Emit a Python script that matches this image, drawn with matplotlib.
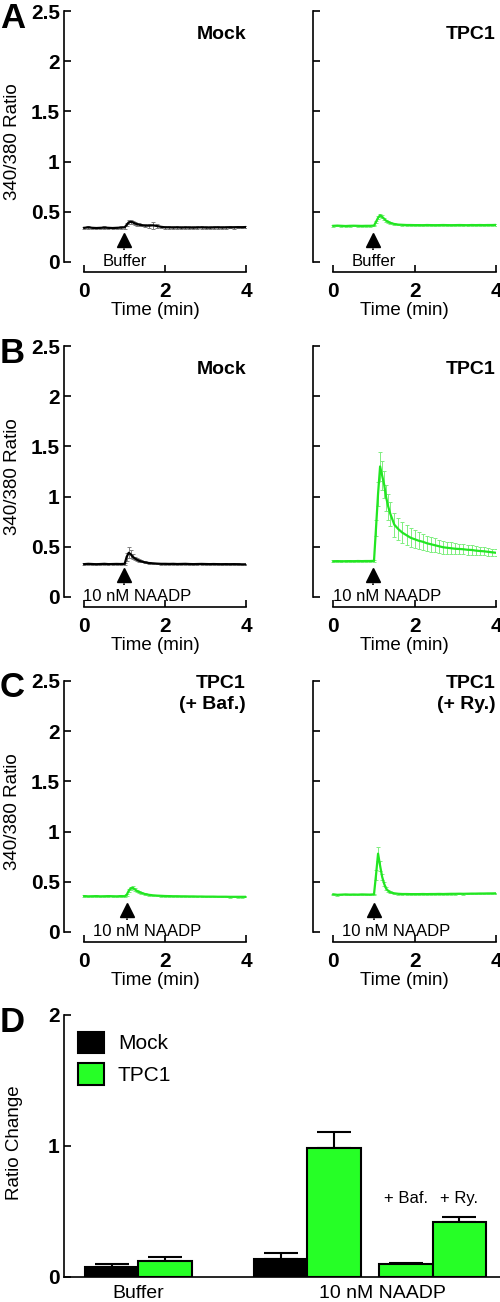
import matplotlib
matplotlib.use('Agg')
import matplotlib.pyplot as plt
from matplotlib.patches import Patch

plt.rcParams['font.family'] = ['Liberation Sans', 'DejaVu Sans']

# ---------------- data ----------------
time_min = [0.0, 0.1, 0.2, 0.3, 0.4, 0.5, 0.6, 0.7, 0.8, 0.9, 1.0,
            1.05, 1.1, 1.15, 1.2, 1.25, 1.3, 1.35, 1.4,
            1.5, 1.6, 1.7, 1.8, 1.9, 2.0,
            2.1, 2.2, 2.3, 2.4, 2.5, 2.6, 2.7, 2.8, 2.9, 3.0,
            3.1, 3.2, 3.3, 3.4, 3.5, 3.6, 3.7, 3.8, 3.9, 4.0]

a_mock = [0.340, 0.345, 0.340, 0.338, 0.340, 0.342, 0.340, 0.338, 0.340, 0.342, 0.345,
          0.370, 0.395, 0.400, 0.395, 0.385, 0.378, 0.372, 0.368,
          0.362, 0.362, 0.365, 0.358, 0.350, 0.345,
          0.345, 0.343, 0.345, 0.342, 0.344, 0.343, 0.342, 0.344, 0.345, 0.343,
          0.342, 0.344, 0.345, 0.343, 0.344, 0.346, 0.345, 0.347, 0.346, 0.348]
a_mock_err = [0.012, 0.012, 0.010, 0.012, 0.011, 0.012, 0.010, 0.012, 0.011, 0.012, 0.012,
              0.015, 0.020, 0.020, 0.018, 0.016, 0.015, 0.015, 0.014,
              0.015, 0.020, 0.035, 0.020, 0.012, 0.012,
              0.012, 0.011, 0.012, 0.012, 0.011, 0.012, 0.012, 0.011, 0.012, 0.012,
              0.012, 0.011, 0.012, 0.012, 0.012, 0.011, 0.012, 0.012, 0.011, 0.012]

a_tpc1 = [0.360, 0.362, 0.360, 0.358, 0.360, 0.361, 0.360, 0.359, 0.360, 0.360, 0.362,
          0.400, 0.440, 0.465, 0.450, 0.430, 0.410, 0.400, 0.390,
          0.378, 0.372, 0.370, 0.368, 0.368, 0.367,
          0.367, 0.366, 0.368, 0.367, 0.366, 0.367, 0.368, 0.367, 0.366, 0.367,
          0.368, 0.367, 0.366, 0.368, 0.367, 0.368, 0.367, 0.368, 0.368, 0.369]
a_tpc1_err = [0.008, 0.008, 0.007, 0.008, 0.008, 0.007, 0.008, 0.008, 0.007, 0.008, 0.008,
              0.012, 0.015, 0.015, 0.014, 0.012, 0.011, 0.010, 0.010,
              0.009, 0.008, 0.008, 0.008, 0.008, 0.008,
              0.008, 0.008, 0.007, 0.008, 0.008, 0.008, 0.007, 0.008, 0.008, 0.008,
              0.008, 0.007, 0.008, 0.008, 0.008, 0.007, 0.008, 0.008, 0.008, 0.008]

b_mock = [0.327, 0.330, 0.328, 0.326, 0.328, 0.330, 0.327, 0.328, 0.329, 0.328, 0.330,
          0.400, 0.440, 0.425, 0.400, 0.385, 0.372, 0.362, 0.355,
          0.345, 0.338, 0.335, 0.332, 0.330, 0.330,
          0.329, 0.330, 0.328, 0.329, 0.330, 0.328, 0.327, 0.328, 0.329, 0.328,
          0.327, 0.328, 0.327, 0.326, 0.327, 0.326, 0.327, 0.326, 0.325, 0.325]
b_mock_err = [0.008, 0.008, 0.007, 0.008, 0.008, 0.007, 0.008, 0.008, 0.007, 0.008, 0.010,
              0.040, 0.055, 0.040, 0.025, 0.018, 0.014, 0.012, 0.010,
              0.009, 0.008, 0.008, 0.008, 0.008, 0.008,
              0.007, 0.008, 0.007, 0.008, 0.007, 0.008, 0.007, 0.008, 0.007, 0.008,
              0.007, 0.008, 0.007, 0.008, 0.007, 0.008, 0.007, 0.008, 0.007, 0.008]

b_tpc1 = [0.355, 0.357, 0.355, 0.356, 0.357, 0.356, 0.358, 0.357, 0.358, 0.358, 0.360,
          0.690, 1.030, 1.300, 1.210, 1.120, 0.990, 0.900, 0.830,
          0.720, 0.675, 0.640, 0.615, 0.590, 0.575,
          0.560, 0.550, 0.535, 0.525, 0.515, 0.505, 0.495, 0.490, 0.485, 0.480,
          0.478, 0.475, 0.470, 0.468, 0.462, 0.458, 0.455, 0.450, 0.445, 0.440]
b_tpc1_err = [0.010, 0.010, 0.009, 0.010, 0.010, 0.009, 0.010, 0.010, 0.009, 0.010, 0.012,
              0.080, 0.120, 0.140, 0.140, 0.130, 0.130, 0.130, 0.120,
              0.120, 0.110, 0.105, 0.100, 0.095, 0.090,
              0.085, 0.080, 0.077, 0.073, 0.070, 0.067, 0.064, 0.061, 0.058, 0.055,
              0.053, 0.051, 0.049, 0.047, 0.045, 0.043, 0.041, 0.039, 0.037, 0.035]

c_baf = [0.357, 0.355, 0.356, 0.357, 0.355, 0.356, 0.357, 0.356, 0.355, 0.357, 0.356,
         0.370, 0.410, 0.435, 0.440, 0.425, 0.410, 0.400, 0.392,
         0.378, 0.370, 0.365, 0.362, 0.360, 0.358,
         0.357, 0.356, 0.356, 0.355, 0.355, 0.354, 0.354, 0.353, 0.353, 0.352,
         0.352, 0.352, 0.351, 0.351, 0.351, 0.350, 0.350, 0.350, 0.350, 0.350]
c_baf_err = [0.007, 0.007, 0.006, 0.007, 0.007, 0.006, 0.007, 0.007, 0.006, 0.007, 0.007,
             0.010, 0.013, 0.015, 0.015, 0.013, 0.012, 0.011, 0.010,
             0.009, 0.008, 0.008, 0.007, 0.007, 0.007,
             0.007, 0.006, 0.007, 0.007, 0.006, 0.007, 0.007, 0.006, 0.007, 0.007,
             0.006, 0.007, 0.007, 0.006, 0.007, 0.007, 0.006, 0.007, 0.007, 0.006]

c_ry = [0.375, 0.370, 0.372, 0.374, 0.372, 0.373, 0.372, 0.374, 0.373, 0.372, 0.375,
        0.570, 0.780, 0.660, 0.550, 0.480, 0.430, 0.410, 0.395,
        0.385, 0.380, 0.378, 0.378, 0.377, 0.377,
        0.377, 0.378, 0.377, 0.378, 0.378, 0.379, 0.378, 0.379, 0.380, 0.380,
        0.381, 0.380, 0.381, 0.382, 0.382, 0.383, 0.383, 0.384, 0.384, 0.385]
c_ry_err = [0.007, 0.007, 0.006, 0.007, 0.007, 0.006, 0.007, 0.007, 0.006, 0.007, 0.008,
            0.050, 0.070, 0.050, 0.030, 0.020, 0.015, 0.012, 0.010,
            0.008, 0.008, 0.007, 0.007, 0.007, 0.007,
            0.007, 0.006, 0.007, 0.007, 0.006, 0.007, 0.007, 0.006, 0.007, 0.007,
            0.006, 0.007, 0.007, 0.006, 0.007, 0.007, 0.006, 0.007, 0.007, 0.006]

y_ticks = [0, 0.5, 1, 1.5, 2, 2.5]
y_tick_labels = ['0', '0.5', '1', '1.5', '2', '2.5']
x_ticks = [0, 2, 4]
x_tick_labels = ['0', '2', '4']

# panel D
bar_labels = ['Buffer Mock', 'Buffer TPC1', 'NAADP Mock', 'NAADP TPC1', 'NAADP TPC1 + Baf.', 'NAADP TPC1 + Ry.']
bar_values = [0.077, 0.123, 0.138, 0.981, 0.097, 0.419]
bar_errors = [0.020, 0.026, 0.041, 0.127, 0.010, 0.041]
group_labels = ['Buffer', '10 nM NAADP']
treatment_labels = ['+ Baf.', '+ Ry.']
d_ticks = [0, 1, 2]

# ---------------- style ----------------
GREEN_LINE = '#22e622'
GREEN_ERR = '#7fee7f'
GREEN_BAR = '#26ff26'
BLACK = 'black'
GREY_ERR = '#808080'
TICK_FS = 15

W, H = 500, 1302
fig = plt.figure(figsize=(W / 100, H / 100), dpi=100)


def px_axes(left, top, width, height):
    return fig.add_axes([left / W, 1 - (top + height) / H, width / W, height / H])


def trace_panel(left, top, width, y, err, color, ecolor, title, stim, stim_x, stim_ha,
                arrow_x, show_ylabel):
    ax = px_axes(left, top, width, 261)
    ax.errorbar(time_min, y, yerr=err, color=color, lw=1.6, ecolor=ecolor,
                elinewidth=0.7, capsize=1.6, capthick=0.7, zorder=3)
    ax.set_xlim(-0.5, 4.0)
    ax.set_ylim(-0.1, 2.5)
    for s in ['top', 'right']:
        ax.spines[s].set_visible(False)
    for s in ['left', 'bottom']:
        ax.spines[s].set_linewidth(1.2)
    ax.spines['left'].set_bounds(0, 2.5)
    ax.spines['bottom'].set_bounds(0, 4)
    ax.set_yticks(y_ticks)
    ax.set_xticks(x_ticks)
    ax.set_xticklabels(x_tick_labels, fontsize=TICK_FS, fontweight='bold')
    if show_ylabel:
        ax.set_yticklabels(y_tick_labels, fontsize=TICK_FS, fontweight='bold')
        ax.set_ylabel('340/380 Ratio', fontsize=13.5)
        ax.yaxis.set_label_coords(-0.236, 0.5)
    else:
        ax.tick_params(axis='y', labelleft=False)
    ax.tick_params(axis='y', direction='in', length=5, width=1.2, pad=3)
    ax.tick_params(axis='x', direction='in', length=5, width=1.2, pad=7)
    ax.set_xlabel('Time (min)', fontsize=13.5)
    ax.xaxis.set_label_coords(0.5, -0.115)
    ax.text(4.0, 2.22, title, ha='right', va='baseline', fontsize=14,
            fontweight='bold', multialignment='right', linespacing=1.3)
    ax.text(stim_x, -0.04, stim, ha=stim_ha, va='baseline', fontsize=12)
    ax.plot([arrow_x, arrow_x], [0.12, 0.2], color='black', lw=1.2, ls=(0, (1, 1)))
    ax.plot([arrow_x], [0.215], marker='^', color='black', markersize=9.5, ls='none')
    return ax


LX, LW = 64, 182
RX, RW = 313, 183

trace_panel(LX, 11, LW, a_mock, a_mock_err, BLACK, GREY_ERR, 'Mock', 'Buffer', 1.0, 'center', 0.98, True)
trace_panel(RX, 11, RW, a_tpc1, a_tpc1_err, GREEN_LINE, GREEN_ERR, 'TPC1', 'Buffer', 1.0, 'center', 0.98, False)
trace_panel(LX, 346, LW, b_mock, b_mock_err, BLACK, GREY_ERR, 'Mock', '10 nM NAADP', -0.02, 'left', 0.98, True)
trace_panel(RX, 346, RW, b_tpc1, b_tpc1_err, GREEN_LINE, GREEN_ERR, 'TPC1', '10 nM NAADP', -0.02, 'left', 0.98, False)
trace_panel(LX, 681, LW, c_baf, c_baf_err, GREEN_LINE, GREEN_ERR, 'TPC1\n(+ Baf.)', '10 nM NAADP', 0.22, 'left', 1.05, True)
trace_panel(RX, 681, RW, c_ry, c_ry_err, GREEN_LINE, GREEN_ERR, 'TPC1\n(+ Ry.)', '10 nM NAADP', 0.22, 'left', 1.0, False)

# ---------------- panel D ----------------
axd = px_axes(64, 1015, 436, 261.7)
bar_pos = [0, 1, 3.16, 4.16, 5.5, 6.5]
bar_colors = [BLACK, GREEN_BAR, BLACK, GREEN_BAR, GREEN_BAR, GREEN_BAR]
axd.bar(bar_pos, bar_values, width=1.0, color=bar_colors, edgecolor='black',
        linewidth=1.5, zorder=2)
axd.errorbar(bar_pos, bar_values, yerr=[[0] * len(bar_values), bar_errors], fmt='none',
             ecolor='black', elinewidth=1.5, capsize=12, capthick=1.5, zorder=1)
axd.set_xlim(-0.89, 7.26)
axd.set_ylim(0, 2)
for s in ['top', 'right']:
    axd.spines[s].set_visible(False)
for s in ['left', 'bottom']:
    axd.spines[s].set_linewidth(1.2)
axd.set_yticks(d_ticks)
axd.set_yticklabels([str(v) for v in d_ticks], fontsize=TICK_FS, fontweight='bold')
axd.tick_params(axis='y', direction='in', length=5, width=1.2, pad=3)
axd.set_xticks([0.5, 5.07])
axd.set_xticklabels(group_labels, fontsize=14)
axd.tick_params(axis='x', length=0, pad=6)
axd.set_ylabel('Ratio Change', fontsize=13.5)
axd.yaxis.set_label_coords(-0.095, 0.511)
for x, lab in zip(bar_pos[4:], treatment_labels):
    axd.text(x, 0.60, lab, ha='center', va='center', fontsize=12)
handles = [Patch(facecolor=BLACK, edgecolor='black', linewidth=1.5),
           Patch(facecolor=GREEN_BAR, edgecolor='black', linewidth=1.5)]
axd.legend(handles, ['Mock', 'TPC1'], loc='upper left', bbox_to_anchor=(0.032, 0.936),
           frameon=False, fontsize=15, handlelength=1.25, handleheight=1.2,
           handletextpad=0.67, labelspacing=0.48, borderpad=0, borderaxespad=0)

# panel letters
for letter, base in zip(['A', 'B', 'C', 'D'], [28, 363, 697, 1032]):
    fig.text(0 / W, 1 - base / H, letter, fontsize=25, fontweight='bold',
             ha='left', va='baseline')

fig.savefig('out.png', dpi=100)
